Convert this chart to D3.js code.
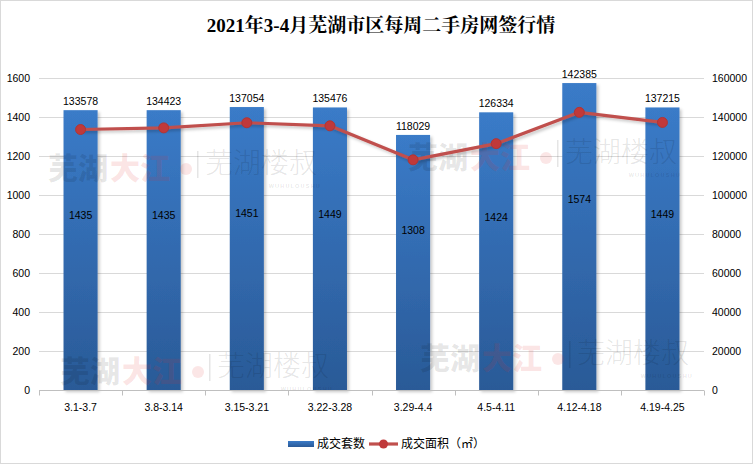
<!DOCTYPE html>
<html><head><meta charset="utf-8">
<script src="https://cdn.jsdelivr.net/npm/d3@7"></script>
<style>
html,body{margin:0;padding:0;background:#fff;}
svg{display:block;}
</style></head>
<body>
<script>
const title = "2021年3-4月芜湖市区每周二手房网签行情";
const categories = ["3.1-3.7","3.8-3.14","3.15-3.21","3.22-3.28","3.29-4.4","4.5-4.11","4.12-4.18","4.19-4.25"];
const counts = [1435,1435,1451,1449,1308,1424,1574,1449];
const areas = [133578,134423,137054,135476,118029,126334,142385,137215];
const leftTicks = [0,200,400,600,800,1000,1200,1400,1600];
const rightTicks = [0,20000,40000,60000,80000,100000,120000,140000,160000];
const seriesNames = ["成交套数","成交面积（㎡）"];

const W = 753, H = 464;
const svg = d3.select("body").append("svg").attr("width", W).attr("height", H);
const defs = svg.append("defs");
const grad = defs.append("linearGradient").attr("id","barGrad").attr("x1",0).attr("y1",0).attr("x2",0).attr("y2",1);
grad.append("stop").attr("offset","0%").attr("stop-color","#3a7bc8");
grad.append("stop").attr("offset","100%").attr("stop-color","#2a5a97");
const sh = defs.append("filter").attr("id","shadow").attr("x","-20%").attr("y","-10%").attr("width","160%").attr("height","130%");
sh.append("feDropShadow").attr("dx",2).attr("dy",2).attr("stdDeviation",1.5).attr("flood-color","#000").attr("flood-opacity",0.22);

// border
svg.append("rect").attr("x",0.5).attr("y",0.5).attr("width",W-1).attr("height",H-1)
  .attr("fill","#fff").attr("stroke","#d9d9d9");

const x0 = 39, x1 = 704, yTop = 78, yBot = 390;
const x = d3.scaleBand().domain(categories).range([x0,x1]).paddingInner(0.59).paddingOuter(0.295);
const yL = d3.scaleLinear().domain([0,1600]).range([yBot,yTop]);
const yR = d3.scaleLinear().domain([0,160000]).range([yBot,yTop]);

// title
svg.append("text").attr("x",381).attr("y",32).attr("text-anchor","middle")
  .attr("font-family","'Liberation Serif','Noto Serif CJK SC','Noto Sans CJK SC',serif")
  .attr("font-size",19).attr("font-weight","bold").attr("fill","#000").text(title);

// gridlines
svg.append("g").selectAll("line").data(leftTicks.slice(1)).join("line")
  .attr("x1",x0).attr("x2",x1).attr("y1",d=>Math.round(yL(d))+0.5).attr("y2",d=>Math.round(yL(d))+0.5)
  .attr("stroke","#d9d9d9").attr("stroke-width",1);

// bars
svg.append("g").selectAll("rect").data(categories).join("rect")
  .attr("x",d=>x(d)).attr("width",x.bandwidth())
  .attr("y",(d,i)=>yL(counts[i])).attr("height",(d,i)=>yBot-yL(counts[i]))
  .attr("fill","url(#barGrad)").attr("filter","url(#shadow)");

// watermarks (semi-transparent overlay)
const wm = svg.append("g").attr("font-family","'Noto Sans CJK SC',sans-serif");
const marks = [[48,179],[408,168],[60,382],[420,369]];
marks.forEach(([mx,my])=>{
  const g = wm.append("g").attr("transform",`translate(${mx},${my})`);
  g.append("text").attr("x",0).attr("y",0).attr("font-size",30).attr("font-weight",900).attr("fill","#000").attr("fill-opacity",0.1).text("芜湖");
  g.append("text").attr("x",62).attr("y",0).attr("font-size",30).attr("font-weight",900).attr("fill","#e03030").attr("fill-opacity",0.14).text("大江");
  g.append("circle").attr("cx",138).attr("cy",-10).attr("r",6).attr("fill","#e03030").attr("fill-opacity",0.12);
  g.append("rect").attr("x",149).attr("y",-28).attr("width",1.5).attr("height",27).attr("fill","#000").attr("fill-opacity",0.1);
  g.append("text").attr("x",157).attr("y",-6).attr("font-size",28).attr("font-weight",300).attr("fill","#000").attr("fill-opacity",0.11).text("芜湖楼叔");
  g.append("text").attr("x",273).attr("y",8.5).attr("font-size",5.5).attr("font-weight","bold").attr("text-anchor","end")
    .attr("font-family","'Liberation Sans',sans-serif").attr("fill","#000").attr("fill-opacity",0.1).attr("letter-spacing",1.2).text("WUHULOUSHU");
});

// x axis
const xa = svg.append("g").attr("transform",`translate(0,${yBot+0.5})`)
  .call(d3.axisBottom(x).tickSize(0).tickPadding(13).tickFormat(d=>d));
xa.select(".domain").remove();
xa.append("line").attr("x1",x0).attr("x2",x1).attr("stroke","#bfbfbf");
const bounds = d3.range(categories.length+1).map(i=>x0 + i*x.step());
xa.selectAll(".bt").data(bounds).join("line").attr("class","bt")
  .attr("x1",d=>Math.round(d)+0.5).attr("x2",d=>Math.round(d)+0.5).attr("y1",0).attr("y2",5).attr("stroke","#bfbfbf");
xa.selectAll(".tick text").attr("font-family","'Liberation Sans',Arial,sans-serif").attr("font-size",10.5).attr("fill","#000");

// left axis
const la = svg.append("g").attr("transform",`translate(${x0},0)`)
  .call(d3.axisLeft(yL).tickValues(leftTicks).tickSize(0).tickPadding(9).tickFormat(d3.format("d")));
la.select(".domain").remove();
la.selectAll(".tick text").attr("font-family","'Liberation Sans',Arial,sans-serif").attr("font-size",10.5).attr("fill","#000");

// right axis
const ra = svg.append("g").attr("transform",`translate(${x1},0)`)
  .call(d3.axisRight(yR).tickValues(rightTicks).tickSize(0).tickPadding(8).tickFormat(d3.format("d")));
ra.select(".domain").remove();
ra.selectAll(".tick text").attr("font-family","'Liberation Sans',Arial,sans-serif").attr("font-size",10.5).attr("fill","#000");

// line
const cx = d=>x(d)+x.bandwidth()/2;
const lineGen = d3.line().x(d=>cx(d)).y((d,i)=>yR(areas[i]));
svg.append("path").datum(categories).attr("d",lineGen)
  .attr("fill","none").attr("stroke","#c0504d").attr("stroke-width",3.2).attr("stroke-linejoin","round")
  .attr("filter","url(#shadow)");
svg.append("g").selectAll("circle").data(categories).join("circle")
  .attr("cx",cx).attr("cy",(d,i)=>yR(areas[i])).attr("r",5)
  .attr("fill","#c0393a").attr("stroke","#b03535").attr("stroke-width",1);

// labels: area above bars
svg.append("g").selectAll("text").data(categories).join("text")
  .attr("x",cx).attr("y",(d,i)=>yL(counts[i])-5).attr("text-anchor","middle")
  .attr("font-family","'Liberation Sans',Arial,sans-serif").attr("font-size",10.5).attr("fill","#000")
  .text((d,i)=>areas[i]);
// labels: counts inside bars
svg.append("g").selectAll("text").data(categories).join("text")
  .attr("x",cx).attr("y",(d,i)=>yL(counts[i]*0.61)).attr("text-anchor","middle")
  .attr("font-family","'Liberation Sans',Arial,sans-serif").attr("font-size",10.5).attr("fill","#000")
  .text((d,i)=>counts[i]);

// legend
const lg = svg.append("g").attr("font-family","'Noto Sans CJK SC',sans-serif").attr("font-size",12).attr("fill","#000");
lg.append("rect").attr("x",288).attr("y",441).attr("width",26).attr("height",6).attr("fill","url(#barGrad)");
lg.append("text").attr("x",317).attr("y",448).text(seriesNames[0]);
lg.append("line").attr("x1",369).attr("x2",398).attr("y1",444).attr("y2",444).attr("stroke","#c0504d").attr("stroke-width",3.2);
lg.append("circle").attr("cx",383.5).attr("cy",444).attr("r",4.5).attr("fill","#c0393a");
lg.append("text").attr("x",401).attr("y",448).text(seriesNames[1]);
</script>
</body></html>
